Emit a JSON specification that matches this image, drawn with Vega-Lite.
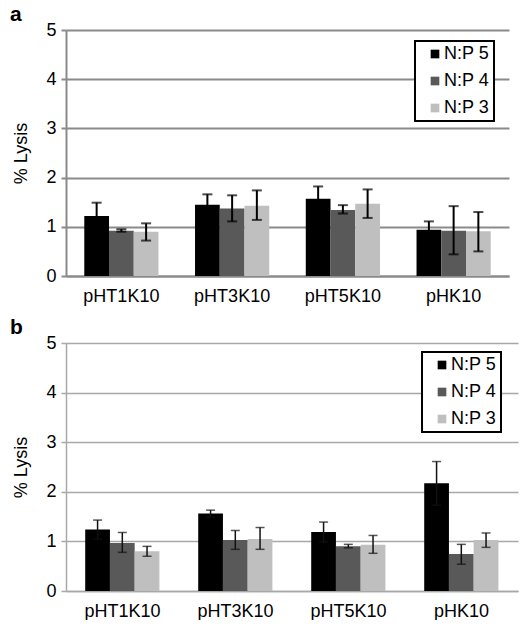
{
  "$schema": "https://vega.github.io/schema/vega-lite/v6.json",
  "padding": {"left": 9, "top": 4, "right": 2, "bottom": 0},
  "background": "white",
  "datasets": {
    "a": [
      {"group": "pHT1K10", "np": "N:P 5", "value": 1.22, "lo": 0.95, "hi": 1.49},
      {"group": "pHT1K10", "np": "N:P 4", "value": 0.92, "lo": 0.90, "hi": 0.95},
      {"group": "pHT1K10", "np": "N:P 3", "value": 0.90, "lo": 0.72, "hi": 1.07},
      {"group": "pHT3K10", "np": "N:P 5", "value": 1.45, "lo": 1.24, "hi": 1.66},
      {"group": "pHT3K10", "np": "N:P 4", "value": 1.37, "lo": 1.11, "hi": 1.64},
      {"group": "pHT3K10", "np": "N:P 3", "value": 1.43, "lo": 1.14, "hi": 1.74},
      {"group": "pHT5K10", "np": "N:P 5", "value": 1.57, "lo": 1.32, "hi": 1.82},
      {"group": "pHT5K10", "np": "N:P 4", "value": 1.34, "lo": 1.27, "hi": 1.44},
      {"group": "pHT5K10", "np": "N:P 3", "value": 1.47, "lo": 1.18, "hi": 1.76},
      {"group": "pHK10", "np": "N:P 5", "value": 0.94, "lo": 0.77, "hi": 1.11},
      {"group": "pHK10", "np": "N:P 4", "value": 0.92, "lo": 0.44, "hi": 1.42},
      {"group": "pHK10", "np": "N:P 3", "value": 0.91, "lo": 0.50, "hi": 1.30}
    ],
    "b": [
      {"group": "pHT1K10", "np": "N:P 5", "value": 1.24, "lo": 1.05, "hi": 1.43},
      {"group": "pHT1K10", "np": "N:P 4", "value": 0.97, "lo": 0.78, "hi": 1.18},
      {"group": "pHT1K10", "np": "N:P 3", "value": 0.80, "lo": 0.70, "hi": 0.90},
      {"group": "pHT3K10", "np": "N:P 5", "value": 1.56, "lo": 1.49, "hi": 1.63},
      {"group": "pHT3K10", "np": "N:P 4", "value": 1.03, "lo": 0.84, "hi": 1.22},
      {"group": "pHT3K10", "np": "N:P 3", "value": 1.05, "lo": 0.84, "hi": 1.28},
      {"group": "pHT5K10", "np": "N:P 5", "value": 1.19, "lo": 0.99, "hi": 1.39},
      {"group": "pHT5K10", "np": "N:P 4", "value": 0.90, "lo": 0.87, "hi": 0.94},
      {"group": "pHT5K10", "np": "N:P 3", "value": 0.93, "lo": 0.76, "hi": 1.12},
      {"group": "pHK10", "np": "N:P 5", "value": 2.17, "lo": 1.73, "hi": 2.61},
      {"group": "pHK10", "np": "N:P 4", "value": 0.745, "lo": 0.54, "hi": 0.94},
      {"group": "pHK10", "np": "N:P 3", "value": 1.03, "lo": 0.88, "hi": 1.17}
    ]
  },
  "spacing": 12,
  "resolve": {"legend": {"color": "independent"}},
  "vconcat": [
    {
      "title": {"text": "a", "anchor": "start", "frame": "bounds", "fontSize": 21, "fontWeight": "bold", "font": "Liberation Sans", "offset": -4, "dx": -3},
      "width": 443,
      "height": 246,
      "data": {"name": "a"},
      "encoding": {
        "x": {"field": "group", "type": "nominal", "sort": ["pHT1K10", "pHT3K10", "pHT5K10", "pHK10"], "title": null,
              "scale": {"paddingInner": 0.33, "paddingOuter": 0.165},
              "axis": {"labelAngle": 0, "ticks": false, "labelPadding": 11, "domainColor": "#8a8a8a", "domainWidth": 2}},
        "xOffset": {"field": "np", "type": "nominal", "scale": {"domain": ["N:P 5", "N:P 4", "N:P 3"], "paddingInner": 0, "paddingOuter": 0}}
      },
      "layer": [
        {
          "mark": {"type": "bar"},
          "encoding": {
            "y": {"field": "value", "type": "quantitative", "title": "% Lysis", "scale": {"domain": [0, 5]},
                  "axis": {"values": [0, 1, 2, 3, 4, 5], "gridColor": "#8a8a8a", "gridWidth": 2, "domainColor": "#8a8a8a", "domainWidth": 2, "tickColor": "#8a8a8a", "tickWidth": 2, "tickSize": 5, "labelPadding": 5, "titlePadding": 15}},
            "color": {"field": "np", "type": "nominal", "scale": {"domain": ["N:P 5", "N:P 4", "N:P 3"], "range": ["#000000", "#595959", "#bfbfbf"]},
                      "legend": {"title": null, "orient": "none", "legendX": 349, "legendY": 11, "strokeColor": "#000000", "fillColor": "white", "padding": 4, "symbolOffset": 7, "symbolType": "square", "symbolSize": 75, "symbolStrokeWidth": 0, "labelFontSize": 18, "labelOffset": 0, "columnPadding": 0, "rowPadding": 9, "labelFont": "Liberation Sans", "labelColor": "#000000",
                                 "encode": {"legend": {"update": {"strokeWidth": {"value": 2}}}}}}
          }
        },
        {
          "mark": {"type": "rule", "strokeWidth": 2, "color": "#000000"},
          "encoding": {"y": {"field": "lo", "type": "quantitative", "title": "% Lysis"}, "y2": {"field": "hi"}}
        },
        {
          "mark": {"type": "tick", "thickness": 2, "size": 10, "color": "#000000"},
          "encoding": {"y": {"field": "lo", "type": "quantitative", "title": "% Lysis"}}
        },
        {
          "mark": {"type": "tick", "thickness": 2, "size": 10, "color": "#000000"},
          "encoding": {"y": {"field": "hi", "type": "quantitative", "title": "% Lysis"}}
        }
      ]
    },
    {
      "title": {"text": "b", "anchor": "start", "frame": "bounds", "fontSize": 21, "fontWeight": "bold", "font": "Liberation Sans", "offset": -4, "dx": -3},
      "width": 452,
      "height": 248,
      "data": {"name": "b"},
      "encoding": {
        "x": {"field": "group", "type": "nominal", "sort": ["pHT1K10", "pHT3K10", "pHT5K10", "pHK10"], "title": null,
              "scale": {"paddingInner": 0.34, "paddingOuter": 0.17},
              "axis": {"labelAngle": 0, "ticks": false, "labelPadding": 11, "domainColor": "#a8a8a8", "domainWidth": 1.5}},
        "xOffset": {"field": "np", "type": "nominal", "scale": {"domain": ["N:P 5", "N:P 4", "N:P 3"], "paddingInner": 0, "paddingOuter": 0}}
      },
      "layer": [
        {
          "mark": {"type": "bar"},
          "encoding": {
            "y": {"field": "value", "type": "quantitative", "title": "% Lysis", "scale": {"domain": [0, 5]},
                  "axis": {"values": [0, 1, 2, 3, 4, 5], "gridColor": "#a8a8a8", "gridWidth": 1.5, "domainColor": "#a8a8a8", "domainWidth": 1.5, "tickColor": "#a8a8a8", "tickWidth": 1.5, "tickSize": 5, "labelPadding": 5, "titlePadding": 15}},
            "color": {"field": "np", "type": "nominal", "scale": {"domain": ["N:P 5", "N:P 4", "N:P 3"], "range": ["#000000", "#595959", "#bfbfbf"]},
                      "legend": {"title": null, "orient": "none", "legendX": 356, "legendY": 9, "strokeColor": "#000000", "fillColor": "white", "padding": 4, "symbolOffset": 7, "symbolType": "square", "symbolSize": 75, "symbolStrokeWidth": 0, "labelFontSize": 18, "labelOffset": 0, "columnPadding": 0, "rowPadding": 9, "labelFont": "Liberation Sans", "labelColor": "#000000",
                                 "encode": {"legend": {"update": {"strokeWidth": {"value": 2}}}}}}
          }
        },
        {
          "mark": {"type": "rule", "strokeWidth": 1.5, "color": "#111111"},
          "encoding": {"y": {"field": "lo", "type": "quantitative", "title": "% Lysis"}, "y2": {"field": "hi"}}
        },
        {
          "mark": {"type": "tick", "thickness": 1.5, "size": 9, "color": "#111111"},
          "encoding": {"y": {"field": "lo", "type": "quantitative", "title": "% Lysis"}}
        },
        {
          "mark": {"type": "tick", "thickness": 1.5, "size": 9, "color": "#111111"},
          "encoding": {"y": {"field": "hi", "type": "quantitative", "title": "% Lysis"}}
        }
      ]
    }
  ],
  "config": {
    "font": "Liberation Sans",
    "view": {"stroke": null},
    "axis": {"labelFont": "Liberation Sans", "labelFontSize": 18, "labelColor": "#000000", "titleFont": "Liberation Sans", "titleFontSize": 18, "titleFontWeight": "normal", "titleColor": "#000000"},
    "axisX": {"grid": false},
    "title": {"color": "#000000"}
  }
}
